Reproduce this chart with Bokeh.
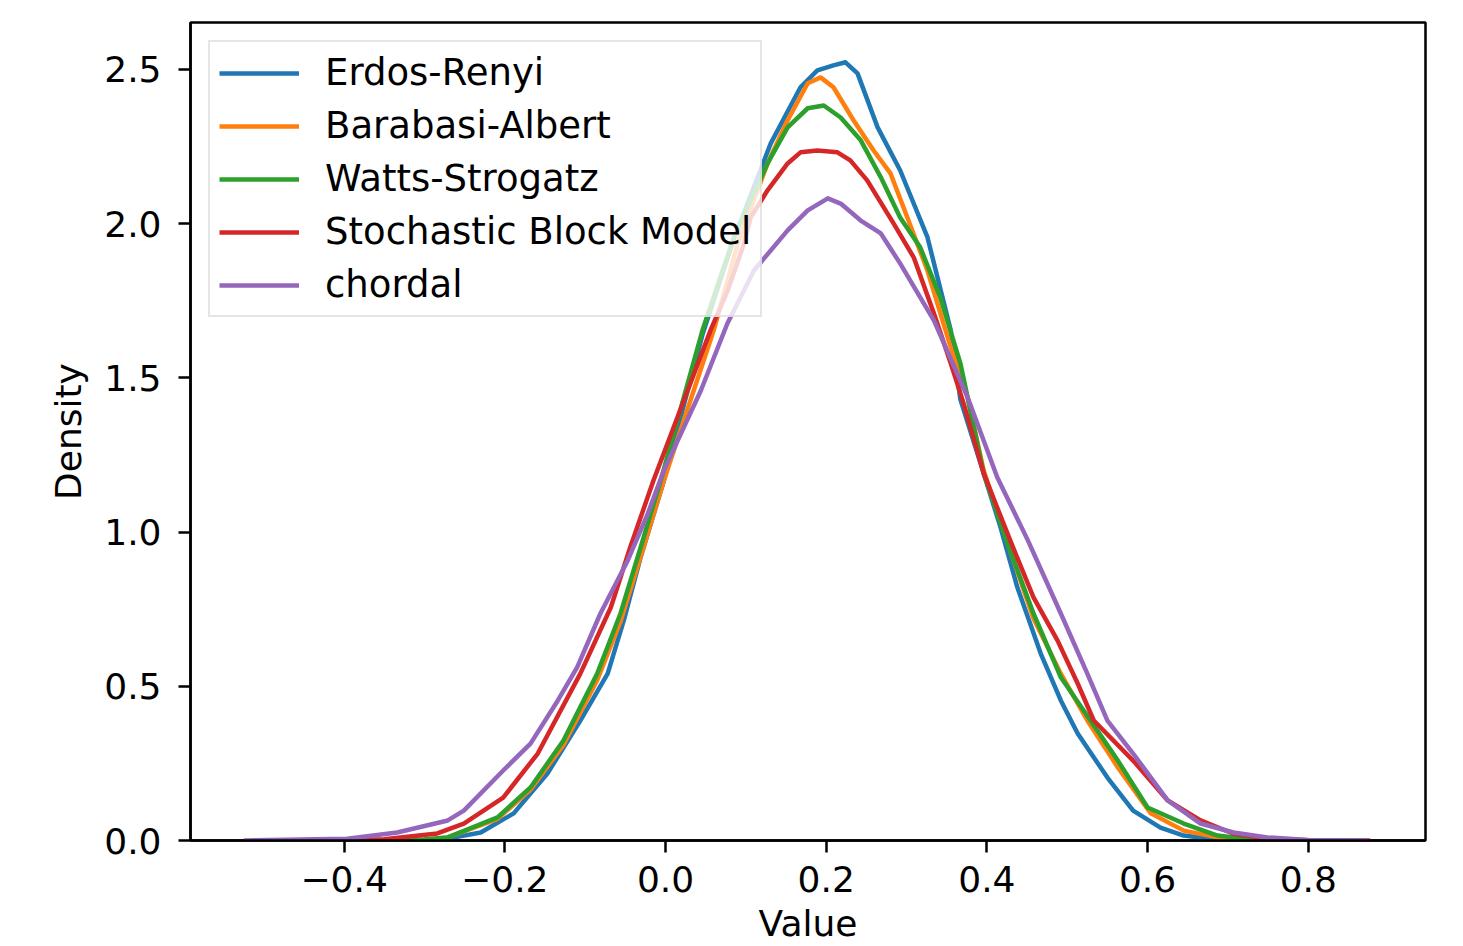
from bokeh.plotting import figure
from bokeh.models import Range1d, FixedTicker
from bokeh.embed import file_html
from bokeh.resources import INLINE

# ---- data ----
names = ["Erdos-Renyi", "Barabasi-Albert", "Watts-Strogatz", "Stochastic Block Model", "chordal"]
colors = ["#1f77b4", "#ff7f0e", "#2ca02c", "#d62728", "#9467bd"]

er_x = [-0.38, -0.30, -0.271, -0.230, -0.189, -0.147, -0.106, -0.072, -0.052, -0.031, -0.002, 0.046, 0.085,
        0.131, 0.168, 0.189, 0.209, 0.224, 0.239, 0.264, 0.292, 0.326, 0.355, 0.367, 0.396, 0.417, 0.438, 0.467,
        0.492, 0.513, 0.550, 0.582, 0.616, 0.645, 0.687, 0.78]
er_y = [0.0, 0.002, 0.006, 0.026, 0.088, 0.217, 0.389, 0.541, 0.713, 0.918, 1.167, 1.64, 1.95,
        2.26, 2.442, 2.497, 2.513, 2.523, 2.487, 2.312, 2.173, 1.956, 1.654, 1.43, 1.19, 1.015, 0.820, 0.606,
        0.454, 0.347, 0.204, 0.097, 0.042, 0.016, 0.003, 0.0]

ba_x = [-0.38, -0.30, -0.271, -0.209, -0.168, -0.127, -0.085, -0.056, -0.031, -0.002, 0.060, 0.090, 0.127,
        0.152, 0.177, 0.193, 0.209, 0.234, 0.259, 0.280, 0.301, 0.326, 0.355, 0.376, 0.396, 0.429, 0.458,
        0.492, 0.525, 0.563, 0.604, 0.645, 0.687, 0.72, 0.78]
ba_y = [0.0, 0.003, 0.010, 0.070, 0.165, 0.310, 0.520, 0.710, 0.920, 1.167, 1.654, 1.936, 2.195,
        2.335, 2.455, 2.474, 2.442, 2.335, 2.237, 2.163, 2.020, 1.848, 1.599, 1.437, 1.20, 0.94, 0.72,
        0.541, 0.389, 0.237, 0.088, 0.032, 0.010, 0.002, 0.0]

ws_x = [-0.38, -0.30, -0.271, -0.209, -0.168, -0.127, -0.085, -0.056, -0.031, -0.006, 0.046, 0.085, 0.127,
        0.152, 0.177, 0.197, 0.218, 0.243, 0.268, 0.292, 0.317, 0.342, 0.367, 0.396, 0.429, 0.458, 0.492,
        0.529, 0.563, 0.600, 0.645, 0.687, 0.728, 0.80]
ws_y = [0.0, 0.003, 0.010, 0.075, 0.172, 0.324, 0.541, 0.736, 0.950, 1.167, 1.654, 1.955, 2.195,
        2.312, 2.374, 2.383, 2.344, 2.270, 2.150, 2.020, 1.923, 1.761, 1.547, 1.19, 0.940, 0.736, 0.529,
        0.389, 0.259, 0.107, 0.055, 0.016, 0.003, 0.0]

sbm_x = [-0.43, -0.35, -0.284, -0.251, -0.202, -0.159, -0.106, -0.068, -0.044, -0.015, 0.056, 0.077, 0.097,
         0.106, 0.127, 0.152, 0.168, 0.189, 0.214, 0.230, 0.251, 0.284, 0.309, 0.334, 0.355, 0.371, 0.396,
         0.429, 0.458, 0.488, 0.513, 0.533, 0.582, 0.625, 0.666, 0.707, 0.749, 0.80, 0.877]
sbm_y = [0.0, 0.004, 0.023, 0.055, 0.139, 0.282, 0.541, 0.756, 0.950, 1.167, 1.654, 1.78, 1.93,
         2.02, 2.108, 2.195, 2.231, 2.237, 2.231, 2.205, 2.140, 2.000, 1.890, 1.709, 1.547, 1.417, 1.19,
         0.973, 0.788, 0.648, 0.509, 0.389, 0.259, 0.130, 0.065, 0.022, 0.006, 0.001, 0.0]

ch_x = [-0.525, -0.396, -0.334, -0.271, -0.251, -0.202, -0.168, -0.134, -0.110, -0.081, -0.047, -0.022,
        -0.002, 0.044, 0.077, 0.110, 0.152, 0.177, 0.202, 0.218, 0.243, 0.268, 0.292, 0.334, 0.376, 0.413,
        0.451, 0.492, 0.525, 0.550, 0.582, 0.625, 0.666, 0.707, 0.749, 0.80, 0.874]
ch_y = [0.0, 0.006, 0.026, 0.065, 0.097, 0.227, 0.314, 0.454, 0.561, 0.736, 0.908, 1.060,
        1.20, 1.459, 1.676, 1.848, 1.978, 2.043, 2.082, 2.065, 2.010, 1.968, 1.871, 1.686, 1.437, 1.177,
        0.973, 0.736, 0.541, 0.389, 0.282, 0.130, 0.055, 0.026, 0.010, 0.002, 0.0]

series_x = [er_x, ba_x, ws_x, sbm_x, ch_x]
series_y = [er_y, ba_y, ws_y, sbm_y, ch_y]

x_ticks = [-0.4, -0.2, 0.0, 0.2, 0.4, 0.6, 0.8]
x_tick_labels = ["\u22120.4", "\u22120.2", "0.0", "0.2", "0.4", "0.6", "0.8"]
y_ticks = [0.0, 0.5, 1.0, 1.5, 2.0, 2.5]
y_tick_labels = ["0.0", "0.5", "1.0", "1.5", "2.0", "2.5"]
x_label = "Value"
y_label = "Density"

FONT = "DejaVu Sans"
FS = "36px"

p = figure(output_backend="svg", toolbar_location=None,
           frame_width=1235, frame_height=818,
           x_range=Range1d(-0.5912, 0.9459), y_range=Range1d(0, 2.652))
p.min_border_left = 190
p.min_border_top = 22
p.min_border_right = 20
p.min_border_bottom = 0

for xs, ys, nm, c in zip(series_x, series_y, names, colors):
    p.line(xs, ys, line_color=c, line_width=4.5, legend_label=nm, line_join="round")

p.xgrid.visible = False
p.ygrid.visible = False
p.outline_line_color = "black"
p.outline_line_width = 2.5
p.outline_line_alpha = 1.0

for ax, ticks, labels in ((p.xaxis[0], x_ticks, x_tick_labels), (p.yaxis[0], y_ticks, y_tick_labels)):
    ax.ticker = FixedTicker(ticks=ticks)
    ax.major_label_overrides = {t: l for t, l in zip(ticks, labels)}
    ax.minor_tick_line_color = None
    ax.major_tick_in = 0
    ax.major_tick_out = 12
    ax.major_tick_line_width = 2.5
    ax.major_tick_line_color = "black"
    ax.axis_line_width = 2.5
    ax.axis_line_color = "black"
    ax.major_label_text_font = FONT
    ax.major_label_text_font_size = FS
    ax.major_label_text_color = "black"
    ax.axis_label_text_font = FONT
    ax.axis_label_text_font_size = FS
    ax.axis_label_text_font_style = "normal"
    ax.axis_label_text_color = "black"

p.xaxis.axis_label = x_label
p.yaxis.axis_label = y_label
p.xaxis.major_label_standoff = 13
p.xaxis.axis_label_standoff = 8
p.yaxis.major_label_standoff = 17
p.yaxis.axis_label_standoff = 12

lg = p.legend[0]
lg.location = "top_left"
lg.margin = 18
lg.padding = 9
lg.spacing = 10
lg.glyph_width = 80
lg.glyph_height = 42
lg.label_height = 42
lg.label_standoff = 26
lg.label_text_font = FONT
lg.label_text_font_size = "37px"
lg.label_text_color = "black"
lg.border_line_color = "#cccccc"
lg.border_line_width = 2.5
lg.background_fill_color = "white"
lg.background_fill_alpha = 0.8

open("out.html", "w").write(file_html(p, INLINE))
